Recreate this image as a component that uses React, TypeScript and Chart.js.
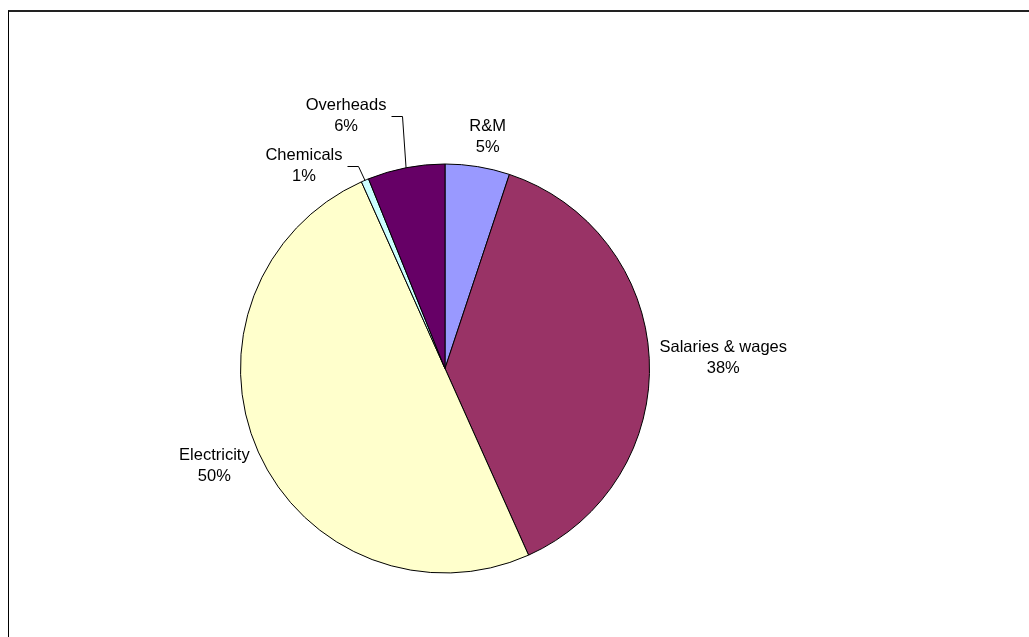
import React, { useEffect, useRef } from "react";
import { Chart, registerables } from "chart.js";

Chart.register(...registerables);

const categories = ["R&M", "Salaries & wages", "Electricity", "Chemicals", "Overheads"];
const values = [5.1, 38.2, 50.0, 0.6, 6.1];
const colors = ["#9999FF", "#993366", "#FFFFCC", "#CCFFFF", "#660066"];
// label block offset from the arc edge point at the slice mid-angle (styling)
const labelOffsets = [
  [10, -30],
  [74, 0],
  [-44, 14],
  [-61, -14],
  [-60, -52],
];
const hasLeader = [false, false, false, true, true];

const FONT = "16.5px 'Liberation Sans', Arial, sans-serif";
const LINE_H = 21;

const labelPlugin = {
  id: "excelLabels",
  afterDatasetsDraw(chart: any) {
    const ctx = chart.ctx;
    const meta = chart.getDatasetMeta(0);
    const data = chart.data.datasets[0].data as number[];
    const total = data.reduce((a, b) => a + b, 0);
    ctx.save();
    ctx.font = FONT;
    ctx.fillStyle = "#000";
    ctx.textAlign = "center";
    ctx.textBaseline = "middle";
    meta.data.forEach((arc: any, i: number) => {
      const { x, y, startAngle, endAngle, outerRadius } = arc.getProps(
        ["x", "y", "startAngle", "endAngle", "outerRadius"],
        true
      );
      const mid = (startAngle + endAngle) / 2;
      const ex = x + Math.cos(mid) * outerRadius;
      const ey = y + Math.sin(mid) * outerRadius;
      const cx = ex + labelOffsets[i][0];
      const cy = ey + labelOffsets[i][1];
      const l1 = String(chart.data.labels[i]);
      const l2 = Math.round((data[i] / total) * 100) + "%";
      ctx.fillText(l1, cx, cy - LINE_H / 2);
      ctx.fillText(l2, cx, cy + LINE_H / 2);
      if (hasLeader[i]) {
        const w = ctx.measureText(l1).width;
        const sx = Math.round(cx + w / 2 + 4.5) + 0.5;
        const sy = Math.round(cy) + 0.5;
        ctx.beginPath();
        ctx.strokeStyle = "#000";
        ctx.lineWidth = 1;
        ctx.moveTo(sx, sy);
        ctx.lineTo(sx + 11, sy);
        ctx.lineTo(ex, ey);
        ctx.stroke();
      }
    });
    ctx.restore();
  },
};

export default function App() {
  const ref = useRef<HTMLCanvasElement>(null);
  useEffect(() => {
    if (!ref.current) return;
    const chart = new Chart(ref.current, {
      type: "pie",
      data: {
        labels: categories,
        datasets: [
          {
            data: values,
            backgroundColor: colors,
            borderColor: "#000",
            borderWidth: 1,
          },
        ],
      },
      options: {
        animation: false,
        responsive: false,
        maintainAspectRatio: false,
        layout: { padding: { left: 231, top: 151.5, right: 371, bottom: 56.5 } },
        plugins: {
          legend: { display: false },
          tooltip: { enabled: false },
        },
      },
      plugins: [labelPlugin],
    });
    return () => chart.destroy();
  }, []);
  return (
    <div
      style={{
        position: "fixed",
        left: 8,
        top: 10,
        width: 1021,
        height: 627,
        borderLeft: "1px solid #000",
        borderTop: "2px solid #222",
        background: "#fff",
        overflow: "hidden",
      }}
    >
      <canvas ref={ref} width={1012} height={618} style={{ display: "block" }} />
    </div>
  );
}
